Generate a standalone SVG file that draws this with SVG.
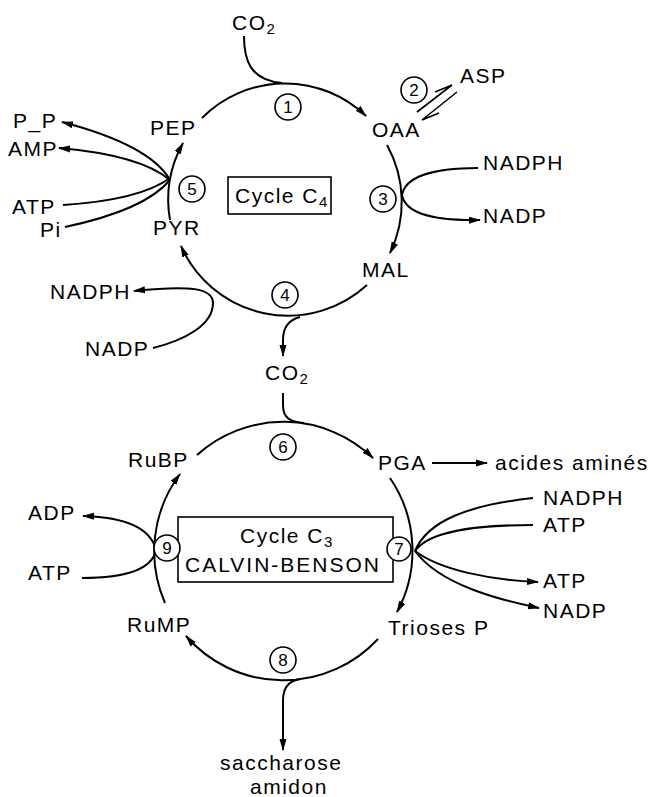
<svg xmlns="http://www.w3.org/2000/svg" width="661" height="797" viewBox="0 0 661 797">
<style>
.t{font-family:"Liberation Sans",Arial,sans-serif;font-size:21px;letter-spacing:1.5px;fill:#000}
.s{font-size:15px}
.n{font-family:"Liberation Sans",Arial,sans-serif;font-size:17px;text-anchor:middle;fill:#000}
.c{fill:#fff;stroke:#000;stroke-width:1.6}
.l{fill:none;stroke:#000;stroke-width:2}
.a{fill:none;stroke:#000;stroke-width:2;marker-end:url(#ah)}
.b{fill:none;stroke:#000;stroke-width:1.6}
</style>
<defs>
<marker id="ah" viewBox="0 0 12 8" refX="11" refY="4" markerWidth="12" markerHeight="8" markerUnits="userSpaceOnUse" orient="auto">
<path d="M0,0.5 L12,4 L0,7.5 z" fill="#000"/>
</marker>
</defs>
<rect fill="#fff" x="0" y="0" width="661" height="797"/>

<g id="connectors">
<!-- C4 cycle -->
<path class="a" d="M202,118 A117,117 0 0 1 366,116"/>
<path class="a" d="M387,145 A117,117 0 0 1 390,253"/>
<path class="a" d="M367,285 A117,117 0 0 1 181,246"/>
<path class="a" d="M170,220 A117,117 0 0 1 183,143"/>
<path class="l" d="M244,36 C244,60 250,80 282,83"/>
<path class="b" d="M417,112 L452,85 L435,92"/>
<path class="b" d="M457,92 L422,120 L439,113"/>
<path class="a" d="M478,168 C430,168 405,178 402,195 C405,212 430,221 480,220"/>
<path class="a" d="M153,348 C185,340 213,325 213,303 C213,288 190,285 134,291"/>
<path class="a" d="M170,180 Q150,145 62,122"/>
<path class="a" d="M170,180 Q140,155 59,148"/>
<path class="l" d="M63,205 Q140,200 170,178"/>
<path class="l" d="M65,227 Q145,210 170,180"/>
<path class="a" d="M300,317 C288,320 283,328 283,340 L283,356"/>
<!-- C3 cycle -->
<path class="l" d="M283,393 L283,405 C283,418 290,422 304,423"/>
<path class="a" d="M197,455 A129,129 0 0 1 373,458"/>
<path class="a" d="M390,478 A129,129 0 0 1 397,612"/>
<path class="a" d="M378,639 A129,129 0 0 1 186,636"/>
<path class="a" d="M165,603 A129,129 0 0 1 180,474"/>
<path class="a" d="M432,463 L487,463"/>
<path class="l" d="M533,498 C470,505 428,520 415,551"/>
<path class="l" d="M533,525 C470,525 428,532 415,551"/>
<path class="a" d="M415,551 C440,570 490,580 538,582"/>
<path class="a" d="M415,551 C440,585 500,600 539,608"/>
<path class="a" d="M156,550 C150,525 120,517 83,516"/>
<path class="l" d="M82,578 C125,578 152,570 156,550"/>
<path class="a" d="M300,679 C288,681 283,688 283,700 L283,750"/>
</g>

<g id="cycle-c4-box">
<rect class="b" x="228" y="177" width="103" height="37" fill="none"/>
<text class="t" x="235" y="203">Cycle C<tspan class="s" dy="4">4</tspan></text>
</g>
<g id="cycle-c3-box">
<rect class="b" x="178" y="517" width="215" height="65" fill="none"/>
<text class="t" x="240" y="543">Cycle C<tspan class="s" dy="4">3</tspan></text>
<text class="t" x="185" y="572" style="letter-spacing:2px">CALVIN-BENSON</text>
</g>

<g id="step1"><circle class="c" cx="288" cy="107" r="13"/><text class="n" x="288" y="113">1</text></g>
<g id="step2"><circle class="c" cx="414" cy="90" r="13"/><text class="n" x="414" y="96">2</text></g>
<g id="step3"><circle class="c" cx="383" cy="199" r="13"/><text class="n" x="383" y="205">3</text></g>
<g id="step4"><circle class="c" cx="285" cy="295" r="13"/><text class="n" x="285" y="301">4</text></g>
<g id="step5"><circle class="c" cx="192" cy="189" r="13"/><text class="n" x="192" y="195">5</text></g>
<g id="step6"><circle class="c" cx="283" cy="447" r="13"/><text class="n" x="283" y="453">6</text></g>
<g id="step7"><circle class="c" cx="399" cy="549" r="12"/><text class="n" x="399" y="555">7</text></g>
<g id="step8"><circle class="c" cx="283" cy="660" r="13"/><text class="n" x="283" y="666">8</text></g>
<g id="step9"><circle class="c" cx="167" cy="548" r="13"/><text class="n" x="167" y="554">9</text></g>

<g id="co2-in"><text class="t" x="232" y="30">CO<tspan class="s" dy="4">2</tspan></text></g>
<g id="pep"><text class="t" x="150" y="135">PEP</text></g>
<g id="oaa"><text class="t" x="372" y="137">OAA</text></g>
<g id="asp"><text class="t" x="460" y="83">ASP</text></g>
<g id="pp"><text class="t" x="13" y="128">P_P</text></g>
<g id="amp"><text class="t" x="8" y="156">AMP</text></g>
<g id="atp5"><text class="t" x="12" y="214">ATP</text></g>
<g id="pi"><text class="t" x="40" y="237">Pi</text></g>
<g id="pyr"><text class="t" x="153" y="235">PYR</text></g>
<g id="nadph3"><text class="t" x="483" y="170">NADPH</text></g>
<g id="nadp3"><text class="t" x="483" y="223">NADP</text></g>
<g id="mal"><text class="t" x="362" y="277">MAL</text></g>
<g id="nadph4"><text class="t" x="50" y="299">NADPH</text></g>
<g id="nadp4"><text class="t" x="85" y="356">NADP</text></g>
<g id="co2-mid"><text class="t" x="265" y="380">CO<tspan class="s" dy="4">2</tspan></text></g>
<g id="rubp"><text class="t" x="128" y="467">RuBP</text></g>
<g id="pga"><text class="t" x="378" y="470">PGA</text></g>
<g id="acides"><text class="t" x="495" y="470">acides aminés</text></g>
<g id="nadph7"><text class="t" x="543" y="505">NADPH</text></g>
<g id="atp7in"><text class="t" x="543" y="532">ATP</text></g>
<g id="atp7out"><text class="t" x="543" y="588">ATP</text></g>
<g id="nadp7"><text class="t" x="543" y="618">NADP</text></g>
<g id="adp"><text class="t" x="28" y="520">ADP</text></g>
<g id="atp9"><text class="t" x="28" y="580">ATP</text></g>
<g id="rump"><text class="t" x="127" y="632">RuMP</text></g>
<g id="trioses"><text class="t" x="388" y="635">Trioses P</text></g>
<g id="sacch"><text class="t" x="220" y="770">saccharose</text><text class="t" x="250" y="794">amidon</text></g>
</svg>
